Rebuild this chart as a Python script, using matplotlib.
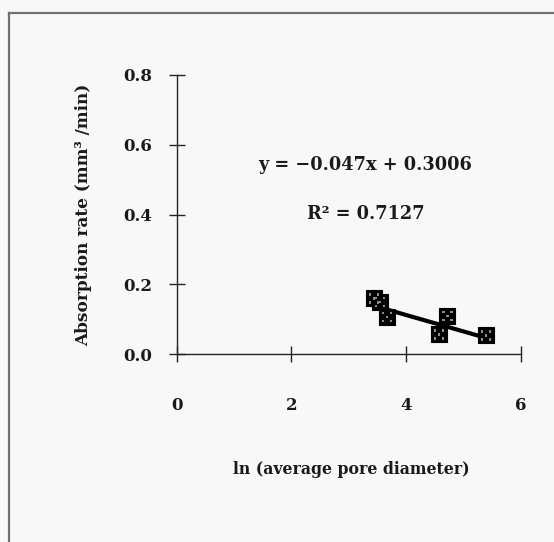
import matplotlib
matplotlib.use("Agg")
import matplotlib.pyplot as plt
from matplotlib.lines import Line2D
from matplotlib.path import Path
import numpy as np

# data
x_vals = [3.44, 3.55, 3.67, 4.57, 4.72, 5.39]
y_vals = [0.160, 0.150, 0.107, 0.057, 0.109, 0.054]
slope = -0.047
intercept = 0.3006
r2 = 0.7127
x_ticks = [0, 2, 4, 6]
y_ticks = [0.0, 0.2, 0.4, 0.6, 0.8]

W, H = 554, 542
fig = plt.figure(figsize=(W / 100, H / 100), dpi=100)
fig.patch.set_facecolor("#f8f8f8")

font = "DejaVu Serif"
tc = "#1a1a1a"

ax = fig.add_axes([176.7 / W, 1 - 354.3 / H, (520.7 - 176.7) / W, (354.3 - 75) / H])
ax.set_facecolor("none")
ax.set_xlim(0, 6)
ax.set_ylim(0, 0.8)
for s in ["top", "right"]:
    ax.spines[s].set_visible(False)
for s in ["left", "bottom"]:
    ax.spines[s].set_linewidth(1.0)
    ax.spines[s].set_color("#222222")
    ax.spines[s].set_clip_on(False)

ax.set_xticks(x_ticks)
ax.set_xticklabels([str(v) for v in x_ticks])
ax.set_yticks(y_ticks)
ax.set_yticklabels([f"{v:.1f}" for v in y_ticks])
ax.tick_params(axis="both", direction="inout", length=12, width=1.0, color="#222222")
ax.tick_params(axis="y", pad=11.5)
ax.tick_params(axis="x", pad=25)
for lab in ax.get_xticklabels() + ax.get_yticklabels():
    lab.set_fontfamily(font)
    lab.set_fontweight("bold")
    lab.set_fontsize(12)
    lab.set_color(tc)

# regression line
xl = np.array([min(x_vals), max(x_vals)])
ax.plot(xl, slope * xl + intercept, color="black", lw=3.0, solid_capstyle="butt", zorder=2, clip_on=False)

# dotted-pattern marker (dice-like dots)
verts, codes = [], []
hs = 0.09
for cx, cy in [(-0.3, -0.3), (0.3, -0.3), (-0.3, 0.3), (0.3, 0.3), (0.0, 0.0)]:
    verts += [(cx - hs, cy - hs), (cx + hs, cy - hs), (cx + hs, cy + hs), (cx - hs, cy + hs), (cx - hs, cy - hs)]
    codes += [Path.MOVETO, Path.LINETO, Path.LINETO, Path.LINETO, Path.CLOSEPOLY]
dots = Path(verts, codes)

# markers
ax.scatter(x_vals, y_vals, marker="s", s=11**2, facecolor="black", edgecolor="black", lw=0.8, zorder=3, clip_on=False)
ax.scatter(x_vals, y_vals, marker=dots, s=7.5**2, facecolor="#8c8c8c", edgecolor="none", lw=0, zorder=4, clip_on=False)

# annotations
fig.text(365 / W, 1 - 165 / H, f"y = \u22120.047x + 0.3006", ha="center", va="center",
         fontfamily=font, fontweight="bold", fontsize=12.8, color=tc)
fig.text(366 / W, 1 - 214 / H, f"R\u00b2 = {r2:.4f}", ha="center", va="center",
         fontfamily=font, fontweight="bold", fontsize=12.8, color=tc)

# axis labels
fig.text(351 / W, 1 - 470 / H, "ln (average pore diameter)", ha="center", va="center",
         fontfamily=font, fontweight="bold", fontsize=11.3, color=tc)
fig.text(84 / W, 1 - 215 / H, "Absorption rate (mm\u00b3 /min)", ha="center", va="center",
         rotation=90, fontfamily=font, fontweight="bold", fontsize=12.2, color=tc)

# outer frame (top and left)
fig.add_artist(Line2D([9 / W, 1.0], [1 - 13 / H, 1 - 13 / H], transform=fig.transFigure, color="#707070", lw=1.6))
fig.add_artist(Line2D([9 / W, 9 / W], [1 - 13 / H, 0.0], transform=fig.transFigure, color="#707070", lw=1.6))

fig.savefig("out.png", dpi=100, facecolor=fig.get_facecolor())
